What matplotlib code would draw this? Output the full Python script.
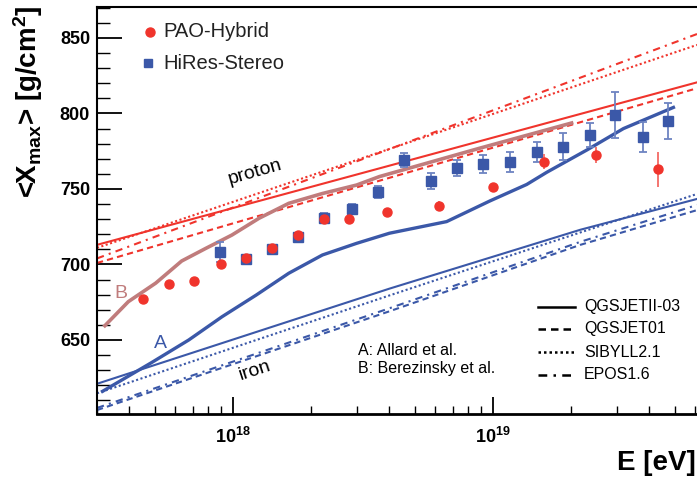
import numpy as np
import matplotlib.pyplot as plt
from matplotlib.ticker import LogLocator, NullFormatter, FixedLocator, MultipleLocator

plt.rcParams['font.family'] = ['Liberation Sans', 'DejaVu Sans']
plt.rcParams['mathtext.fontset'] = 'custom'
plt.rcParams['mathtext.rm'] = 'Liberation Sans'
plt.rcParams['mathtext.bf'] = 'Liberation Sans:bold'
plt.rcParams['mathtext.it'] = 'Liberation Sans:italic'

# Données mesurées
pao_E = [4.5e17, 5.7e17, 7.1e17, 9.0e17, 1.12e18, 1.41e18, 1.78e18, 2.24e18,
         2.8e18, 3.9e18, 6.2e18, 1.0e19, 1.57e19, 2.5e19, 4.3e19]
pao_X = [677, 687, 689, 700, 704, 711, 719.5, 730, 730, 735, 739, 751, 768, 772.5, 763]
pao_err = [2.6, 2, 2, 3, 2, 2, 2, 3, 2, 2, 3, 3, 5, 5.5, 11.5]

hires_E = [8.9e17, 1.12e18, 1.41e18, 1.78e18, 2.24e18, 2.86e18, 3.6e18, 4.57e18, 5.8e18,
           7.26e18, 9.15e18, 1.16e19, 1.48e19, 1.86e19, 2.36e19, 2.96e19, 3.78e19, 4.72e19]
hires_X = [708, 703.6, 710, 718, 731, 737, 748, 769, 755,
           764, 766.5, 768, 774.5, 778, 786, 799, 784.4, 795]
hires_err = [6.6, 3, 3, 3, 3, 3, 4, 4.6, 5.3, 5.3, 6, 6.5, 6.5, 9, 8, 15, 10, 12]

# Modèles proton / fer
E_ends = [3.0e17, 6.1e19]
p_qgsII = [713, 820.6]
p_qgs01 = [701, 816.7]
p_sibyll = [711, 845.4]
p_epos = [704, 852.6]

E_fe4 = [3.0e17, 4.0e18, 2.17e19, 6.1e19]
E_fe3 = [3.0e17, 4.0e18, 6.1e19]
fe_qgsII = [621, 684, 723, 743.4]
fe_sibyll = [614.7, 679.5, 746.7]
fe_epos = [605, 671, 715, 739.4]
fe_qgs01 = [603.6, 669, 713, 736]

# Courbes A (Allard) et B (Berezinsky)
allard_E = [3.15e17, 4.86e17, 6.76e17, 9.08e17, 1.23e18, 1.64e18, 2.21e18, 2.99e18,
            4.0e18, 6.64e18, 9.72e18, 1.35e19, 1.61e19, 2.31e19, 3.18e19, 4.95e19]
allard_X = [616, 635, 650, 665.4, 679.8, 694.2, 706.3, 714, 720.7, 728.4, 742,
            753, 761, 776, 790, 804]
bere_E = [3.18e17, 3.96e17, 5.05e17, 6.35e17, 7.87e17, 9.91e17, 1.26e18, 1.64e18,
          2.21e18, 2.99e18, 3.66e18, 8.9e18, 2.04e19]
bere_X = [658.6, 675.4, 687.7, 702.3, 710.7, 719.5, 730.6, 740.5, 747, 752.6,
          758.2, 777, 794]

red = '#f0342c'
blue = '#3b58a8'
pink = '#c07c7c'
dot = (0, (1, 1.2))
dash = (0, (3, 2))
dashdot = (0, (3.5, 2.5, 1, 2.5))

fig = plt.figure(figsize=(6.97, 4.80), dpi=100)
ax = fig.add_axes([97/697, 66/480, 600/697, 407/480])

for ys, ls in [(p_qgsII, '-'), (p_qgs01, dash), (p_sibyll, dot), (p_epos, dashdot)]:
    ax.plot(E_ends, ys, color=red, lw=1.5, ls=ls)
ax.plot(E_fe4, fe_qgsII, color=blue, lw=1.5, ls='-')
ax.plot(E_fe3, fe_sibyll, color=blue, lw=1.5, ls=dot)
ax.plot(E_fe4, fe_epos, color=blue, lw=1.5, ls=dashdot)
ax.plot(E_fe4, fe_qgs01, color=blue, lw=1.5, ls=dash)

ax.plot(bere_E, bere_X, color=pink, lw=2.6, solid_capstyle='butt')
ax.plot(allard_E, allard_X, color=blue, lw=2.4)

ax.errorbar(hires_E, hires_X, yerr=hires_err, fmt='s', color=blue, ms=6.5,
            ecolor='#6d84c2', elinewidth=1.3, capsize=3, capthick=1.3, zorder=5)
ax.errorbar(pao_E, pao_X, yerr=pao_err, fmt='o', color=red, ms=6.5,
            ecolor='#f36a64', elinewidth=1.3, capsize=0, zorder=6)

ax.set_xscale('log')
ax.set_xlim(3.0e17, 6.1e19)
ax.set_ylim(601, 870.5)

ax.xaxis.set_major_locator(FixedLocator([1e18, 1e19]))
ax.xaxis.set_minor_locator(LogLocator(base=10, subs=np.arange(2, 10)))
ax.xaxis.set_minor_formatter(NullFormatter())
ax.set_xticklabels([r'$\mathbf{10^{18}}$', r'$\mathbf{10^{19}}$'])
ax.yaxis.set_major_locator(MultipleLocator(50))
ax.yaxis.set_minor_locator(MultipleLocator(10))

ax.tick_params(axis='both', which='both', direction='in', top=False, right=False)
ax.tick_params(axis='y', which='major', length=18, width=1.3, pad=5, labelsize=13)
ax.tick_params(axis='y', which='minor', length=9, width=1.0)
ax.tick_params(axis='x', which='major', length=12, width=1.3, pad=9, labelsize=13)
ax.tick_params(axis='x', which='minor', length=6, width=1.0)
for lab in ax.get_yticklabels():
    lab.set_fontweight('bold')
ax.spines['right'].set_visible(False)
ax.spines['left'].set_linewidth(1.5)
ax.spines['top'].set_linewidth(1.5)
ax.spines['bottom'].set_linewidth(2.0)

# Légende des données
ax.plot([0.088], [0.9386], 'o', color=red, ms=6.5, transform=ax.transAxes)
ax.plot([0.085], [0.862], 's', color=blue, ms=6, transform=ax.transAxes)
ax.text(0.11, 0.9386, 'PAO-Hybrid', transform=ax.transAxes, fontsize=14.5,
        color='#222222', va='center')
ax.text(0.11, 0.862, 'HiRes-Stereo', transform=ax.transAxes, fontsize=14.5,
        color='#222222', va='center')

# Légende des modèles
models = ['QGSJETII-03', 'QGSJET01', 'SIBYLL2.1', 'EPOS1.6']
styles = ['-', dash, dot, dashdot]
rows = [0.263, 0.209, 0.152, 0.096]
for name, ls, yy in zip(models, styles, rows):
    ax.plot([0.735, 0.797], [yy, yy], color='k', lw=1.8, ls=ls, transform=ax.transAxes)
    ax.text(0.812, yy, name, transform=ax.transAxes, fontsize=11.5, va='center')

ax.text(0.435, 0.155, 'A: Allard et al.', transform=ax.transAxes, fontsize=11.5, va='center')
ax.text(0.435, 0.113, 'B: Berezinsky et al.', transform=ax.transAxes, fontsize=11.5, va='center')

ax.text(1.22e18, 761, 'proton', fontsize=14, rotation=16, ha='center', va='center')
ax.text(1.22e18, 630, 'iron', fontsize=14, rotation=18, ha='center', va='center')
ax.text(5.27e17, 648, 'A', fontsize=14, color=blue, ha='center', va='center')
ax.text(3.7e17, 681, 'B', fontsize=14, color=pink, ha='center', va='center')

fig.text(28/697, 1 - 5/480, r'<X$_{\mathbf{max}}$> [g/cm$^{\mathbf{2}}$]', rotation=90,
         fontsize=20, fontweight='bold', ha='center', va='top')
fig.text(0.998, 1 - 463/480, 'E [eV]', fontsize=20, fontweight='bold', ha='right', va='center')

plt.savefig('out.png', dpi=100)
